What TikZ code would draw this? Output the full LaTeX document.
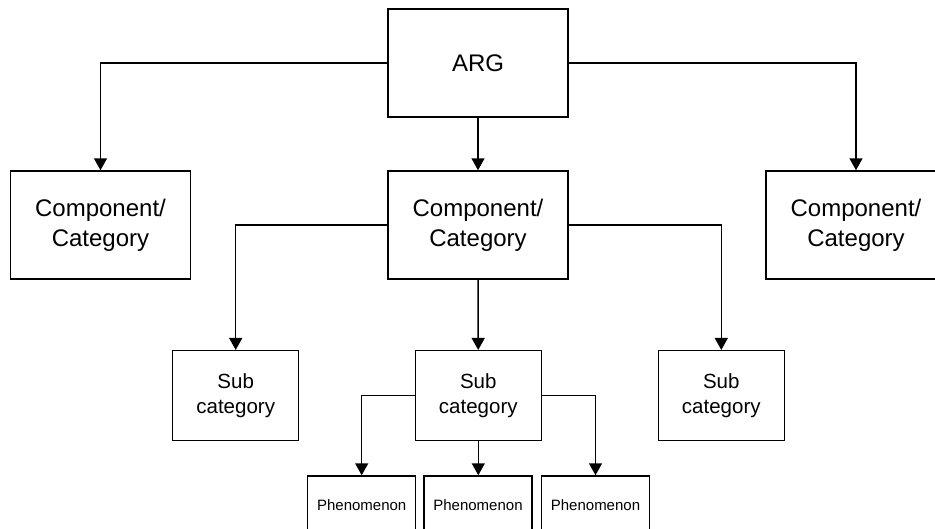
\documentclass[tikz,border=0pt]{standalone}
\usepackage{fontspec}
\setmainfont{Liberation Sans}
\usetikzlibrary{arrows.meta}
\begin{document}
\begin{tikzpicture}[x=1pt,y=-1pt,>={Triangle[length=12pt,width=13pt]},line width=1.5pt,
    box/.style={draw,inner sep=0pt,align=center},
    big/.style={box,minimum width=180pt,minimum height=108pt,font=\fontsize{24}{30}\selectfont},
    mid/.style={box,minimum width=126pt,minimum height=90pt,font=\fontsize{20.5}{25.6}\selectfont},
    small/.style={box,minimum width=108pt,minimum height=58pt,font=\fontsize{15}{18}\selectfont}]
    \useasboundingbox (0,0) rectangle (935,528);
    \clip (0,0) rectangle (935,528);
    \node[big] (arg) at (478,63) {ARG};
    \node[big] (compl) at (100.5,225) {Component/\\Category};
    \node[big] (compm) at (478,225) {Component/\\Category};
    \node[big] (compr) at (856,225) {Component/\\Category};
    \node[mid] (subl) at (235.7,395.7) {Sub\\category};
    \node[mid] (subm) at (478.3,395.7) {Sub\\category};
    \node[mid] (subr) at (721.3,395.7) {Sub\\category};
    \node[small] (phena) at (361.7,505) {Phenomenon};
    \node[small] (phenb) at (478,505) {Phenomenon};
    \node[small] (phenc) at (595.5,505) {Phenomenon};
    \draw[->] (arg.west) -| (compl.north);
    \draw[->] (arg) -- (compm);
    \draw[->] (arg.east) -| (compr.north);
    \draw[->] (compm.west) -| (subl.north);
    \draw[->] (compm) -- (subm);
    \draw[->] (compm.east) -| (subr.north);
    \draw[->] (subm.west) -| (phena.north);
    \draw[->] (subm.south) -- (subm.south|-phenb.north);
    \draw[->] (subm.east) -| (phenc.north);
\end{tikzpicture}
\end{document}
